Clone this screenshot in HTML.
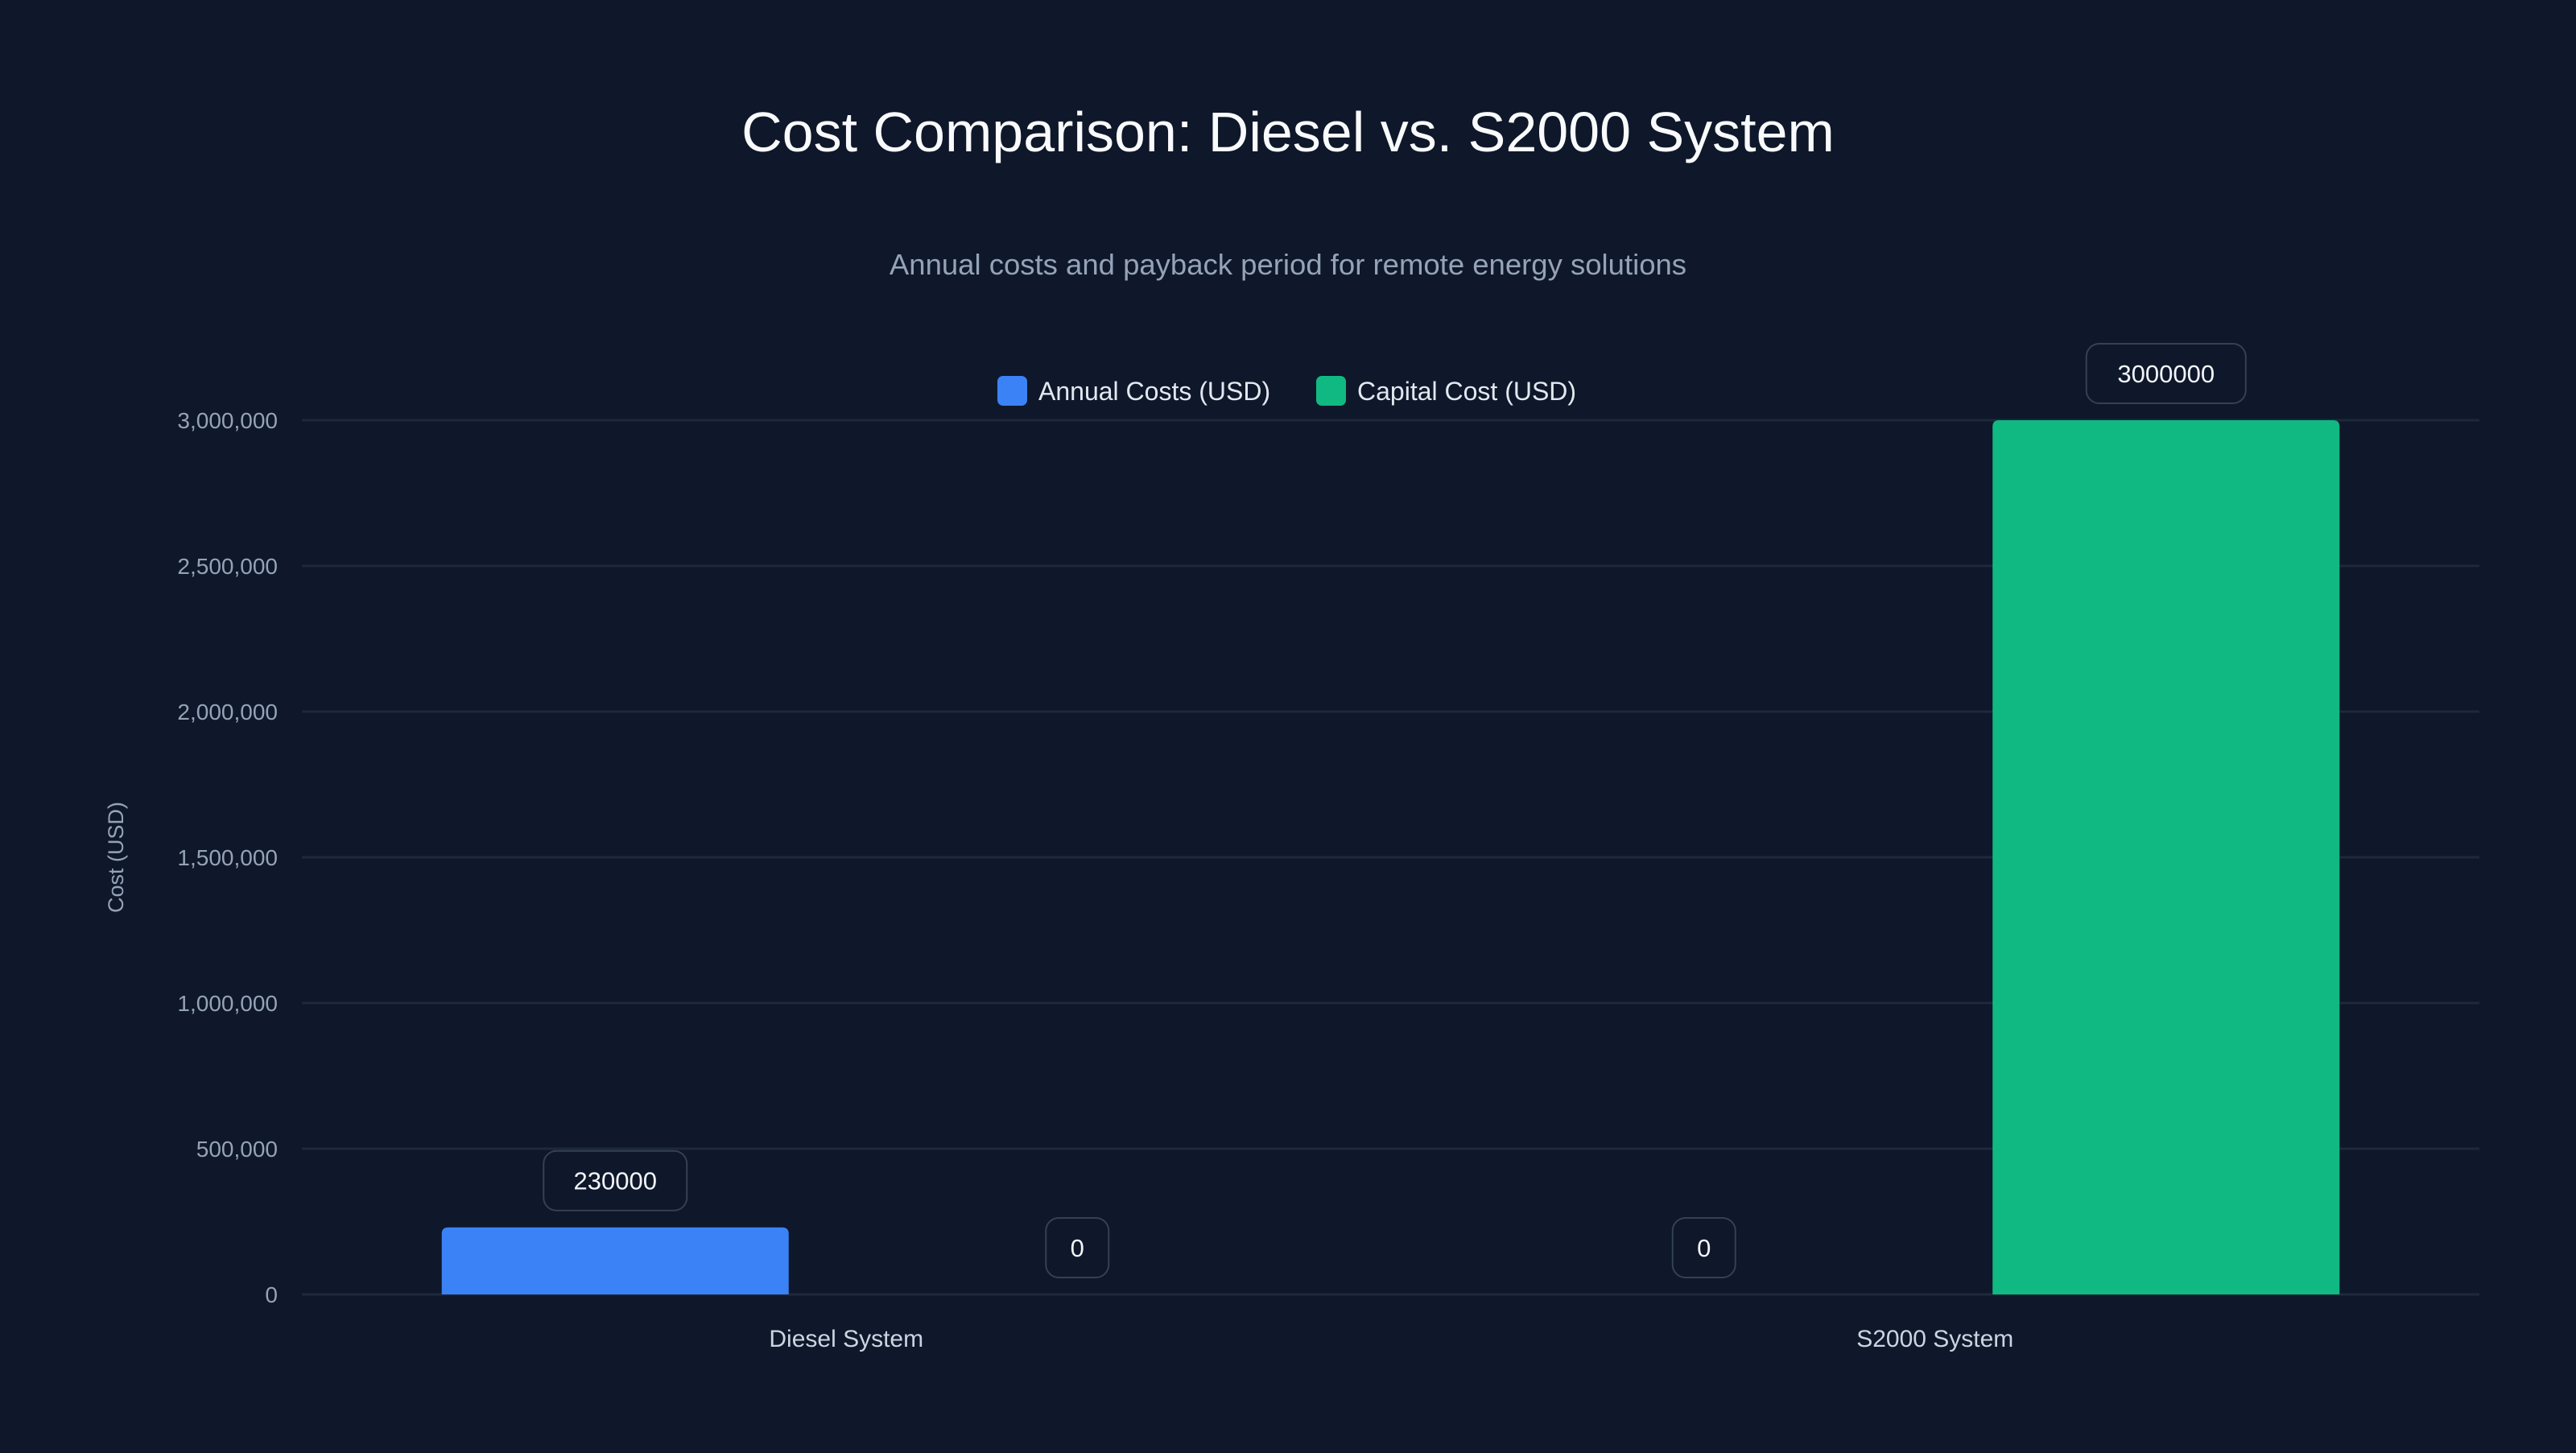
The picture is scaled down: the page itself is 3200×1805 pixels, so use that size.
<!DOCTYPE html>
<html><head><meta charset="utf-8"><style>
html,body{margin:0;padding:0;background:#0f172a;}
body{width:3200px;height:1800px;overflow:hidden;font-family:"Liberation Sans",sans-serif;}
</style></head><body>
<svg id="chart" width="3200" height="1800" xmlns="http://www.w3.org/2000/svg">
<rect width="3200" height="1800" fill="#0f172a"/>
<text x="1600" y="188" text-anchor="middle" fill="#f8fafc" font-size="70">Cost Comparison: Diesel vs. S2000 System</text>
<text x="1600" y="341" text-anchor="middle" fill="#94a3b8" font-size="36.5">Annual costs and payback period for remote energy solutions</text>
<g>
<g>
<rect x="1239" y="467" width="37" height="37" rx="7" fill="#3b82f6"/>
<text x="1290" y="497" fill="#e2e8f0" font-size="32">Annual Costs (USD)</text></g>
<g>
<rect x="1635" y="467" width="37" height="37" rx="7" fill="#10b981"/>
<text x="1686" y="497" fill="#e2e8f0" font-size="32">Capital Cost (USD)</text></g>
</g>
<text transform="translate(153,1065) rotate(-90)" text-anchor="middle" fill="#94a3b8" font-size="27">Cost (USD)</text>
<g id="grid"></g><g id="bars"></g>
</svg>
<script>
const categories = ["Diesel System", "S2000 System"];
const annualCosts = [230000, 0];
const capitalCosts = [0, 3000000];
const yTicks = [0, 500000, 1000000, 1500000, 2000000, 2500000, 3000000];
const seriesNames = ["Annual Costs (USD)", "Capital Cost (USD)"];

const NS = "http://www.w3.org/2000/svg";
const L = 375, R = 3080, T = 522, B = 1608, yMax = 3000000;
const y = v => B - (v / yMax) * (B - T);
const band = (R - L) / categories.length;
const xCenter = i => L + band * (i + 0.5);
const barW = 431, offs = [-287, 287];
const colors = ["#3b82f6", "#10b981"];
const grid = document.getElementById('grid'), bars = document.getElementById('bars');
function mk(tag, attrs, parent){const e=document.createElementNS(NS,tag);for(const k in attrs)e.setAttribute(k,attrs[k]);parent.appendChild(e);return e;}
yTicks.forEach(t=>{
  const ln = mk('line',{x1:L,x2:R,y1:y(t),y2:y(t),stroke:'#1e293b','stroke-width':3},grid);
  
  
  const tx = mk('text',{x:345,y:y(t)+10,'text-anchor':'end',fill:'#94a3b8','font-size':28},grid);
  tx.textContent = t.toLocaleString('en-US');
  
  
});
categories.forEach((c,i)=>{
  const tx = mk('text',{x:xCenter(i),y:1673,'text-anchor':'middle',fill:'#cbd5e1','font-size':30},grid);
  tx.textContent = c;
  
  
  [annualCosts, capitalCosts].forEach((arr,s)=>{
    const v = arr[i], cx = xCenter(i)+offs[s], top = y(v), h = B - top;
    if (h > 0) {
      const r = Math.min(8,h);
      const p = mk('path',{d:`M${cx-barW/2},${B} V${top+r} Q${cx-barW/2},${top} ${cx-barW/2+r},${top} H${cx+barW/2-r} Q${cx+barW/2},${top} ${cx+barW/2},${top+r} V${B} Z`,fill:colors[s]},bars);
      
      
    }
    const label = String(v), w = label.length*20+58, bh = 74, by = top - 21 - bh;
    const g = mk('g',{},bars);
    
    
    mk('rect',{x:cx-w/2,y:by,width:w,height:bh,rx:16,fill:'#0f172a',stroke:'#334155','stroke-width':2},g);
    const t = mk('text',{x:cx,y:by+bh/2+11,'text-anchor':'middle',fill:'#f1f5f9','font-size':31},g);
    t.textContent = label;
  });
});
</script>
</body></html>
